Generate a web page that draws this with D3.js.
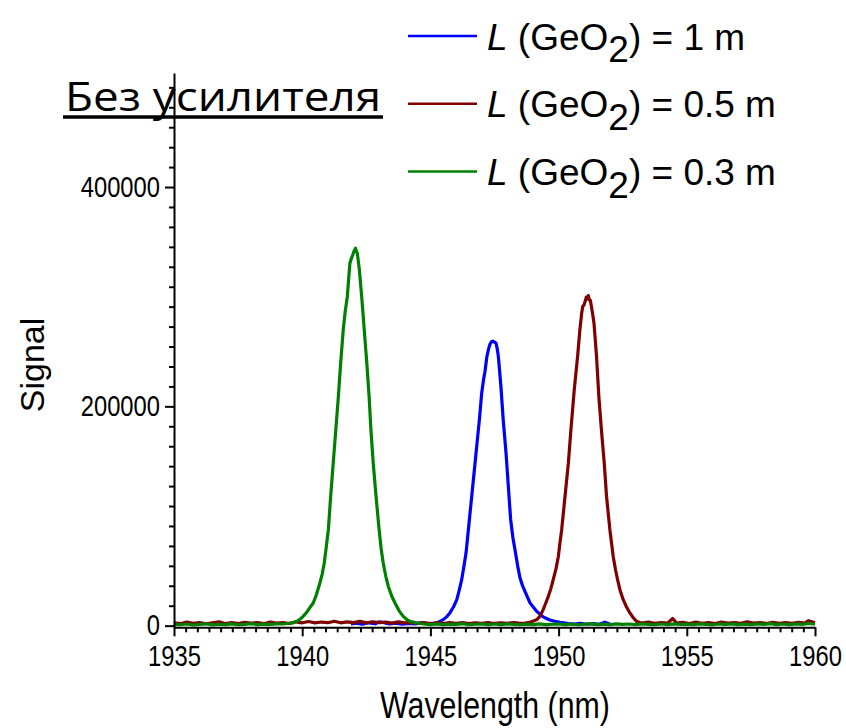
<!DOCTYPE html>
<html>
<head>
<meta charset="utf-8">
<script src="https://cdn.jsdelivr.net/npm/d3@7"></script>
<style>
  html, body { margin: 0; padding: 0; background: #fff; }
  svg { display: block; }
</style>
</head>
<body>
<svg id="chart" width="846" height="728"></svg>
<script>
// Axis ticks
const xMajorTicks = [1935, 1940, 1945, 1950, 1955, 1960];
const yMajorTicks = [0, 200000, 400000];
const minorPerMajor = 10;

// Legend / series labels
const seriesNames = ["1 m", "0.5 m", "0.3 m"];
const seriesColors = ["#0000ff", "#800000", "#008000"];

// Spectrum, L(GeO2) = 1 m  — [wavelength nm, signal]
const blueData = [
  [1941.9,1500],[1942.1,2200],[1942.35,1400],[1942.6,2600],[1942.85,1700],[1943.0,3500],[1943.15,2900],
  [1943.4,1600],[1943.65,2300],[1943.9,1300],[1944.15,2100],[1944.4,1500],[1944.65,2500],[1944.9,1700],
  [1945.11,1800],[1945.3,3000],[1945.5,5500],[1945.63,8000],[1945.76,11600],[1945.9,17000],[1946.03,23700],
  [1946.12,32000],[1946.22,41900],[1946.30,53000],[1946.39,66200],[1946.52,96600],[1946.65,126900],
  [1946.78,157400],[1946.91,187700],[1947.00,212000],[1947.07,224000],[1947.13,232000],[1947.20,245000],
  [1947.26,251500],[1947.32,256500],[1947.39,259100],[1947.45,259500],[1947.50,258500],[1947.56,257600],
  [1947.61,252000],[1947.65,245400],[1947.70,232000],[1947.75,218100],[1947.84,187700],[1947.95,157400],
  [1948.04,126900],[1948.13,96600],[1948.22,80000],[1948.30,69000],[1948.40,55000],[1948.49,44000],
  [1948.60,36000],[1948.73,29000],[1948.88,21000],[1949.01,17000],[1949.15,13000],[1949.27,10500],
  [1949.40,8000],[1949.53,6500],[1949.66,5200],[1949.85,4000],[1950.05,3000],[1950.2,2500],[1950.38,1800],
  [1950.6,1500],[1950.85,2200],[1951.1,1300],[1951.35,1800],[1951.6,1200],[1951.8,3200],[1952.0,1500]
];

// Spectrum, L(GeO2) = 0.5 m
const redData = [
  [1935.0,2500],[1935.25,1800],[1935.5,3200],[1935.75,2200],[1936.0,2900],[1936.25,1700],[1936.5,2600],
  [1936.75,3400],[1937.0,2000],[1937.25,2800],[1937.5,1900],[1937.75,3100],[1938.0,2300],[1938.25,2700],
  [1938.5,1800],[1938.75,3300],[1939.0,2400],[1939.25,2900],[1939.5,2000],[1939.75,3500],[1940.0,2600],
  [1940.25,3800],[1940.5,2500],[1940.75,3300],[1941.0,2700],[1941.25,4000],[1941.5,2600],[1941.75,3400],
  [1942.0,2800],[1942.25,3900],[1942.5,2500],[1942.75,3600],[1943.0,2700],[1943.25,3200],[1943.5,2300],
  [1943.75,3500],[1944.0,2600],[1944.25,3000],[1944.5,2100],[1944.75,2800],[1945.0,1900],[1945.25,2600],
  [1945.5,2000],[1945.75,2900],[1946.0,2200],[1946.25,2700],[1946.5,1900],[1946.75,2500],[1947.0,2100],
  [1947.25,2800],[1947.5,2000],[1947.75,2600],[1948.0,2200],[1948.25,2900],[1948.45,2300],
  [1948.6,2000],[1948.75,2500],[1948.88,3000],[1949.02,4200],[1949.15,5500],[1949.27,8500],[1949.40,14600],
  [1949.50,20700],[1949.60,26700],[1949.70,34000],[1949.79,41900],[1949.90,52000],[1949.99,63100],
  [1950.05,75000],[1950.12,87500],[1950.25,117800],[1950.38,148200],[1950.48,178600],[1950.61,215000],
  [1950.74,245400],[1950.83,269700],[1950.90,285000],[1950.94,291000],[1950.99,292500],[1951.04,296000],
  [1951.08,299500],[1951.12,298000],[1951.16,301000],[1951.20,297000],[1951.24,296500],[1951.28,291000],
  [1951.33,284000],[1951.38,275800],[1951.48,245400],[1951.57,208900],[1951.67,178600],[1951.78,148200],
  [1951.87,117800],[1952.00,87500],[1952.13,63100],[1952.22,51000],[1952.30,41900],[1952.40,32000],
  [1952.52,23700],[1952.65,17000],[1952.78,11600],[1952.92,7000],[1953.04,3900],[1953.17,2800],[1953.30,2500],
  [1953.5,3200],[1953.75,2100],[1954.0,2900],[1954.25,2300],[1954.45,6500],[1954.6,2400],[1954.85,3100],
  [1955.1,2000],[1955.35,3300],[1955.6,2200],[1955.85,2900],[1956.1,1900],[1956.35,3200],[1956.6,2400],
  [1956.85,2800],[1957.1,2100],[1957.35,3400],[1957.6,2300],[1957.85,2700],[1958.1,2000],[1958.35,3100],
  [1958.6,2200],[1958.85,2900],[1959.1,2100],[1959.35,3000],[1959.6,2400],[1959.75,4500],[1960.0,2600]
];

// Spectrum, L(GeO2) = 0.3 m
const greenData = [
  [1935.0,1200],[1935.25,800],[1935.5,1500],[1935.75,600],[1936.0,1100],[1936.25,1700],[1936.5,700],
  [1936.75,1300],[1937.0,900],[1937.25,1600],[1937.5,800],[1937.75,1200],[1938.0,1800],[1938.25,900],
  [1938.5,1400],[1938.75,1100],[1939.0,1700],[1939.25,1500],[1939.5,2200],[1939.65,2600],[1939.8,4000],
  [1939.95,6500],[1940.04,8500],[1940.2,13000],[1940.3,16500],[1940.43,20700],[1940.55,28000],
  [1940.69,38900],[1940.78,47000],[1940.86,57100],[1940.94,72000],[1941.02,87500],[1941.11,117800],
  [1941.21,148200],[1941.31,178600],[1941.41,208900],[1941.50,239400],[1941.60,269700],[1941.68,287000],
  [1941.76,300000],[1941.81,316000],[1941.86,330500],[1941.92,335000],[1941.97,338000],[1942.02,341500],
  [1942.08,344200],[1942.12,341000],[1942.15,339600],[1942.19,332000],[1942.23,324400],[1942.32,300000],
  [1942.42,269700],[1942.52,239400],[1942.61,208900],[1942.68,178600],[1942.77,148200],[1942.88,117800],
  [1943.00,87500],[1943.08,70000],[1943.16,57100],[1943.26,45000],[1943.36,35800],[1943.49,27000],
  [1943.62,20700],[1943.78,13500],[1943.94,8500],[1944.07,5800],[1944.20,3900],[1944.4,2800],[1944.6,2000],
  [1944.75,1500],[1945.0,1000],[1945.25,1700],[1945.5,900],[1945.75,1400],[1946.0,1100],[1946.25,1800],
  [1946.5,800],[1946.75,1300],[1947.0,1600],[1947.25,900],[1947.5,1500],[1947.75,1000],[1948.0,1700],
  [1948.25,1200],[1948.5,800],[1948.75,1400],[1949.0,1000],[1949.25,1600],[1949.5,900],[1949.75,1300],
  [1950.0,1700],[1950.25,1000],[1950.5,1500],[1950.75,800],[1951.0,1300],[1951.25,1800],[1951.5,1000],
  [1951.75,1400],[1952.0,900],[1952.25,1600],[1952.5,1100],[1952.75,1500],[1953.0,900],[1953.25,1700],
  [1953.5,1200],[1953.75,800],[1954.0,1500],[1954.25,1000],[1954.5,1700],[1954.75,1100],[1955.0,1400],
  [1955.25,900],[1955.5,1600],[1955.75,1200],[1956.0,800],[1956.25,1500],[1956.5,1100],[1956.75,1700],
  [1957.0,1000],[1957.25,1400],[1957.5,900],[1957.75,1600],[1958.0,1200],[1958.25,1800],[1958.5,1000],
  [1958.75,1500],[1959.0,900],[1959.25,1700],[1959.5,1200],[1959.75,2000],[1960.0,1400]
];

const svg = d3.select("#chart");

const x = d3.scaleLinear().domain([1935, 1960]).range([174, 815]);
const y = d3.scaleLinear().domain([-1500, 504000]).range([627.3, 73]);

const sans = "'Liberation Sans', Arial, sans-serif";
const squeeze = 0.82;   // condensed look for axis lettering

// Minor tick positions between the major ticks
function minorTicks(majors, lo, hi) {
  const step = (majors[1] - majors[0]) / (minorPerMajor + 1);
  const out = [];
  for (let v = majors[0] - step * 20; v <= hi + 1e-9; v += step) {
    if (v < lo - 1e-9) continue;
    const isMajor = majors.some(m => Math.abs(m - v) < step * 1e-3);
    if (!isMajor) out.push(v);
  }
  return out;
}

// Title
svg.append("text")
  .attr("x", 65).attr("y", 111)
  .attr("font-family", "'Open Sans', 'Noto Sans', sans-serif")
  .attr("font-size", 41)
  .attr("textLength", 316)
  .attr("lengthAdjust", "spacingAndGlyphs")
  .attr("fill", "#000")
  .text("Без усилителя");
svg.append("line")
  .attr("x1", 63).attr("x2", 383).attr("y1", 117).attr("y2", 117)
  .attr("stroke", "#000").attr("stroke-width", 3.5);

// Curves
const line = d3.line().x(d => x(d[0])).y(d => y(d[1]));
const plot = svg.append("g");
[blueData, redData, greenData].forEach((data, i) => {
  plot.append("path")
    .datum(data)
    .attr("fill", "none")
    .attr("stroke", seriesColors[i])
    .attr("stroke-width", 3.2)
    .attr("stroke-linejoin", "round")
    .attr("d", line);
});

// X axis
const xAxisY = 627.3;
const gxMinor = svg.append("g").attr("transform", `translate(0,${xAxisY})`)
  .call(d3.axisBottom(x).tickValues(minorTicks(xMajorTicks, 1935, 1960)).tickSize(5).tickSizeOuter(0).tickFormat(""));
gxMinor.select(".domain").remove();
const gx = svg.append("g").attr("transform", `translate(0,${xAxisY})`)
  .call(d3.axisBottom(x).tickValues(xMajorTicks).tickSize(9).tickSizeOuter(0).tickPadding(9).tickFormat(d3.format("d")));
gx.selectAll("text")
  .attr("font-family", sans).attr("font-size", 29).attr("fill", "#000")
  .attr("transform", `scale(${squeeze},1)`);

// Y axis
const gyMinor = svg.append("g").attr("transform", `translate(174,0)`)
  .call(d3.axisLeft(y).tickValues(minorTicks(yMajorTicks, 0, 504000)).tickSize(5).tickSizeOuter(0).tickFormat(""));
gyMinor.select(".domain").remove();
const gy = svg.append("g").attr("transform", `translate(174,0)`)
  .call(d3.axisLeft(y).tickValues(yMajorTicks).tickSize(9).tickSizeOuter(0).tickPadding(5).tickFormat(d3.format("d")));
gy.selectAll("text")
  .attr("font-family", sans).attr("font-size", 29).attr("fill", "#000")
  .attr("x", -14 / squeeze)
  .attr("transform", `scale(${squeeze},1)`);

svg.selectAll(".domain, .tick line").attr("stroke", "#000").attr("stroke-width", 2);

// Axis titles
svg.append("g").attr("transform", "translate(495,718)")
  .append("text")
  .attr("transform", `scale(${squeeze},1)`)
  .attr("text-anchor", "middle")
  .attr("font-family", sans).attr("font-size", 37)
  .text("Wavelength (nm)");
svg.append("text")
  .attr("transform", "translate(44,365) rotate(-90)")
  .attr("text-anchor", "middle")
  .attr("font-family", sans).attr("font-size", 34)
  .text("Signal");

// Legend
const legend = svg.append("g");
seriesNames.forEach((name, i) => {
  const ly = 36 + i * 67.7;
  legend.append("line")
    .attr("x1", 408).attr("x2", 477).attr("y1", ly).attr("y2", ly)
    .attr("stroke", seriesColors[i]).attr("stroke-width", 2.5);
  const t = legend.append("text")
    .attr("x", 487).attr("y", ly + 13.5)
    .attr("font-family", sans).attr("font-size", 37).attr("fill", "#000");
  t.append("tspan").attr("font-style", "italic").text("L");
  t.append("tspan").text(" (GeO");
  t.append("tspan").attr("dy", 12.7).text("2");
  t.append("tspan").attr("dy", -12.7).text(") = " + name);
});
</script>
</body>
</html>
